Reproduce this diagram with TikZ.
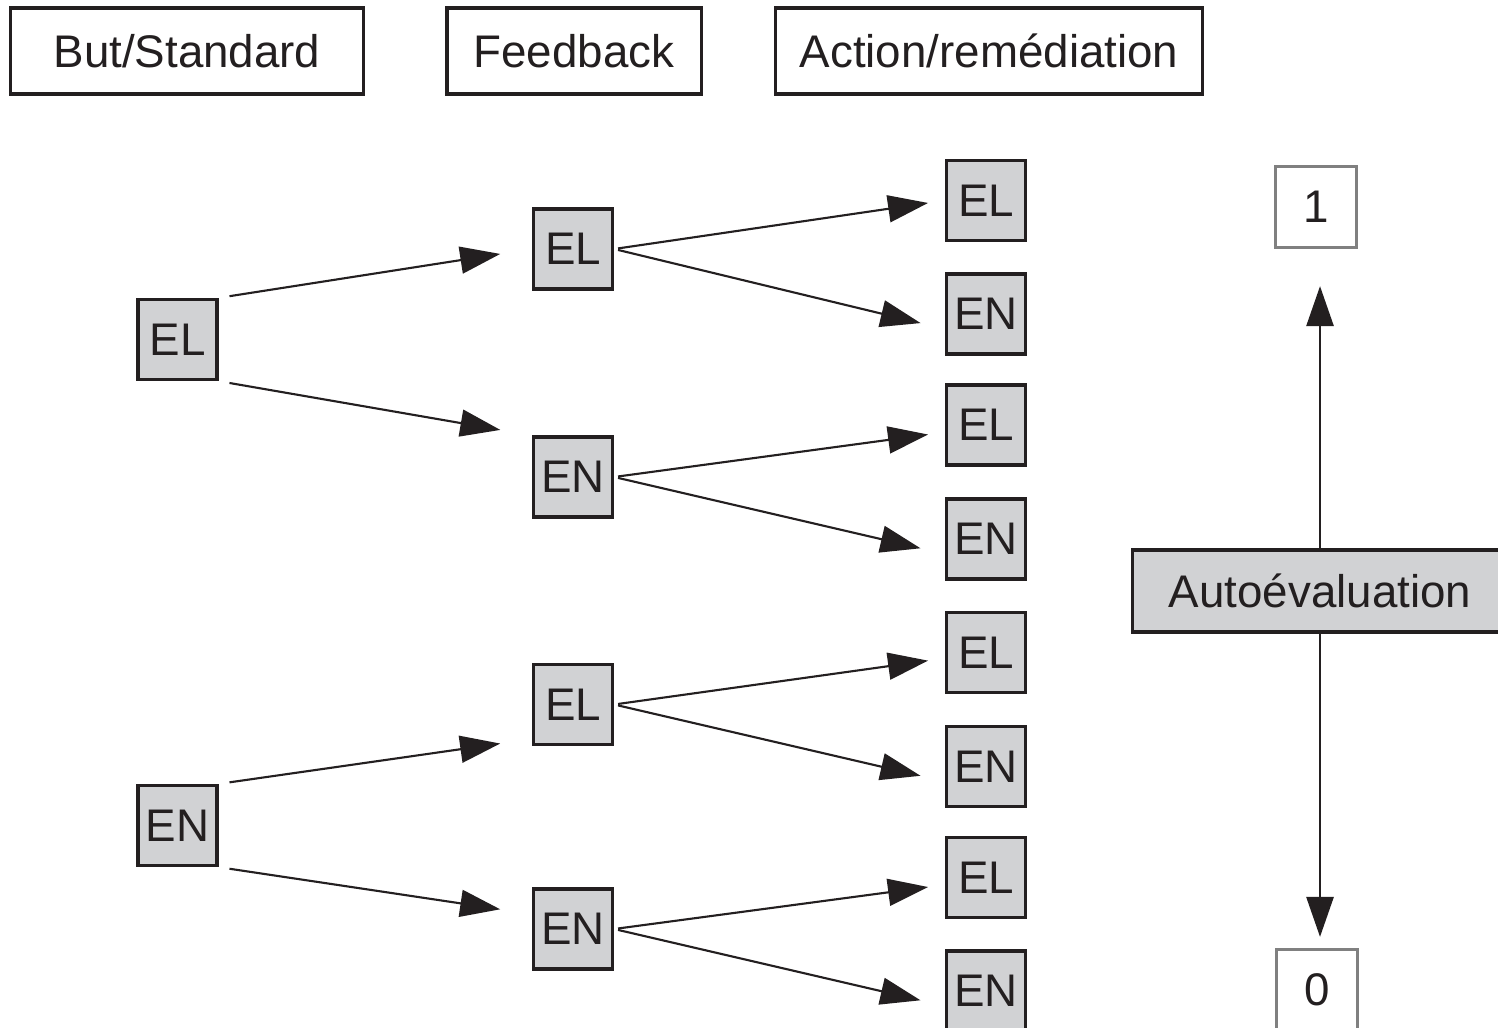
\documentclass[tikz,border=0pt]{standalone}
\usepackage{fontspec}
\setmainfont{Liberation Sans}
\usetikzlibrary{arrows.meta}
\definecolor{ink}{HTML}{231F20}
\definecolor{boxgray}{HTML}{D1D2D4}
\definecolor{rimgray}{HTML}{808080}
\begin{document}
\begin{tikzpicture}[x=0.01cm, y=-0.01cm,
	every node/.style={font=\fontsize{13}{15}\selectfont, text=ink, inner sep=0pt},
	head/.style={draw=ink, line width=0.9pt, minimum height=0.86cm},
	cell/.style={draw=ink, fill=boxgray, line width=0.9pt, minimum width=0.79cm, minimum height=0.80cm},
	endbox/.style={draw=rimgray, fill=white, line width=0.9pt, minimum width=0.81cm, minimum height=0.81cm},
	link/.style={draw=ink, line width=0.6pt, -{Triangle[length=0.4cm, width=0.27cm]}},
	]
	\useasboundingbox (0, 0) rectangle (1498, 1028);
	% headings
	\node[head, minimum width=3.52cm] (h1) at (187, 51) {But/Standard};
	\node[head, minimum width=2.54cm] (h2) at (574, 51) {Feedback};
	\node[head, minimum width=4.26cm] (h3) at (989, 51) {Action/remédiation};
	% but
	\node[cell] (s1) at (177.5, 339.5) {EL};
	\node[cell] (s2) at (177.5, 825.5) {EN};
	% feedback
	\node[cell] (f1) at (573, 249) {EL};
	\node[cell] (f2) at (573, 477) {EN};
	\node[cell] (f3) at (573, 704.5) {EL};
	\node[cell] (f4) at (573, 929) {EN};
	% action
	\node[cell] (a1) at (986, 200.5) {EL};
	\node[cell] (a2) at (986, 314) {EN};
	\node[cell] (a3) at (986, 425) {EL};
	\node[cell] (a4) at (986, 539) {EN};
	\node[cell] (a5) at (986, 652.5) {EL};
	\node[cell] (a6) at (986, 766.5) {EN};
	\node[cell] (a7) at (986, 877.5) {EL};
	\node[cell] (a8) at (986, 991) {EN};
	% autoevaluation
	\node[cell, minimum width=3.74cm, minimum height=0.82cm] (auto) at (1320, 591) {Autoévaluation};
	\node[endbox] (one) at (1316, 207) {1};
	\node[endbox] (zero) at (1317, 990) {0};

	\draw[link, shorten <=0.11cm, shorten >=0.32cm] (s1.north east) to (f1.west);
	\draw[link, shorten <=0.11cm, shorten >=0.32cm] (s1.south east) to (f2.north west);
	\draw[link, shorten <=0.11cm, shorten >=0.32cm] (s2.north east) to (f3.220);
	\draw[link, shorten <=0.11cm, shorten >=0.32cm] (s2.south east) to (f4.160);

	\draw[link, shorten <=0.04cm, shorten >=0.17cm] (f1.east) to (a1.west);
	\draw[link, shorten <=0.04cm, shorten >=0.25cm] (f1.east) to (a2.200);
	\draw[link, shorten <=0.04cm, shorten >=0.17cm] (f2.east) to (a3.190);
	\draw[link, shorten <=0.04cm, shorten >=0.25cm] (f2.east) to (a4.200);
	\draw[link, shorten <=0.04cm, shorten >=0.17cm] (f3.east) to (a5.188);
	\draw[link, shorten <=0.04cm, shorten >=0.25cm] (f3.east) to (a6.200);
	\draw[link, shorten <=0.04cm, shorten >=0.17cm] (f4.east) to (a7.190);
	\draw[link, shorten <=0.04cm, shorten >=0.25cm] (f4.east) to (a8.200);

	\draw[link, line width=0.8pt, shorten >=0.37cm] (auto.north) to (auto.north |- one.south);
	\draw[link, line width=0.8pt, shorten >=0.11cm] (auto.south) to (auto.south |- zero.north);
\end{tikzpicture}
\end{document}
